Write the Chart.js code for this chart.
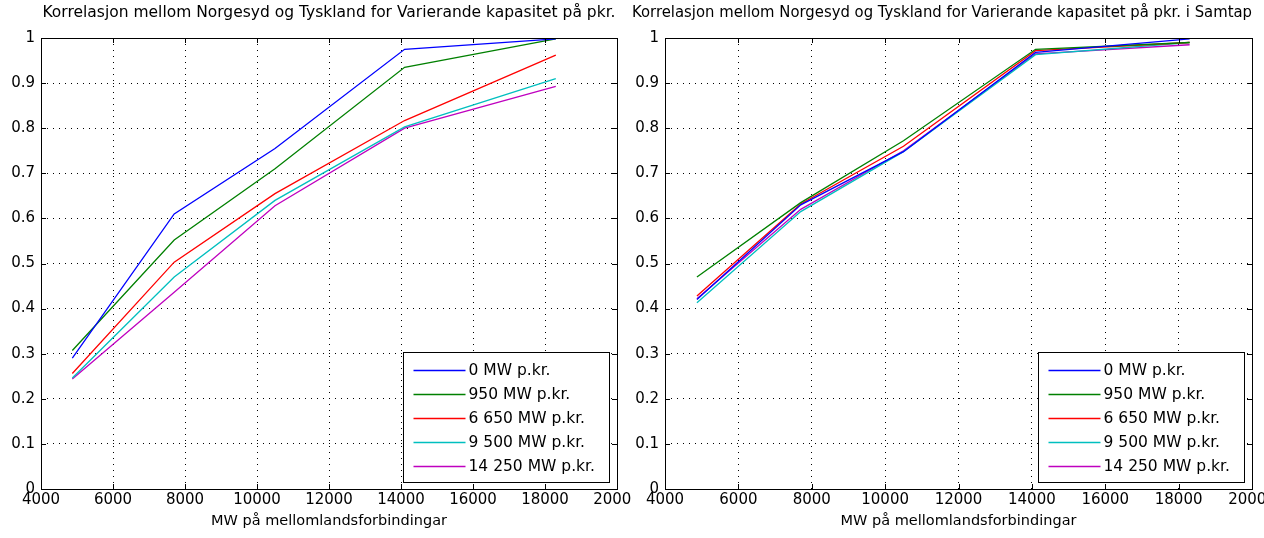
<!DOCTYPE html>
<html>
<head>
<meta charset="utf-8">
<script src="https://cdn.jsdelivr.net/npm/chart.js@4"></script>
<style>
    body { margin: 0; background: #fff; }
    .wrap { position: relative; width: 1264px; height: 538px; overflow: hidden; }
    .plot { position: absolute; top: 0; width: 632px; height: 538px; }
</style>
</head>
<body>
<div class="wrap">
    <div class="plot" style="left:0"><canvas id="chartLeft"></canvas></div>
    <div class="plot" style="left:632px"><canvas id="chartRight"></canvas></div>
</div>
<script>
// --- 1. Data ---
const xValues = [4870, 7700, 10500, 14100, 18300];
const seriesLabels = ['0 MW p.kr.', '950 MW p.kr.', '6 650 MW p.kr.', '9 500 MW p.kr.', '14 250 MW p.kr.'];
const seriesColors = ['#0000ff', '#008000', '#ff0000', '#00bfbf', '#bf00bf'];

// Left plot: Varierande kapasitet på pkr.
const left0 = [0.29, 0.61, 0.755, 0.975, 0.998];
const left950 = [0.307, 0.552, 0.71, 0.935, 0.998];
const left6650 = [0.256, 0.503, 0.655, 0.817, 0.962];
const left9500 = [0.246, 0.47, 0.64, 0.803, 0.91];
const left14250 = [0.244, 0.436, 0.628, 0.80, 0.893];

// Right plot: ... i Samtap
const right0 = [0.42, 0.63, 0.748, 0.968, 0.998];
const right950 = [0.47, 0.635, 0.772, 0.975, 0.99];
const right6650 = [0.428, 0.632, 0.76, 0.972, 0.99];
const right9500 = [0.413, 0.615, 0.748, 0.963, 0.99];
const right14250 = [0.422, 0.62, 0.75, 0.965, 0.985];

const xTicks = [4000, 6000, 8000, 10000, 12000, 14000, 16000, 18000, 20000];
const yTicks = [0, 0.1, 0.2, 0.3, 0.4, 0.5, 0.6, 0.7, 0.8, 0.9, 1];

const titleLeft = 'Korrelasjon mellom Norgesyd og Tyskland for Varierande kapasitet på pkr.';
const titleRight = 'Korrelasjon mellom Norgesyd og Tyskland for Varierande kapasitet på pkr. i Samtap';
const xLabel = 'MW på mellomlandsforbindingar';

const FONT = 'DejaVu Sans';

// --- 2. Plugin: frame, inward ticks and boxed legend (MATLAB look) ---
const matlabFrame = {
    id: 'matlabFrame',
    afterDatasetsDraw(chart) {
        const { ctx, chartArea: a, scales } = chart;
        ctx.save();
        ctx.strokeStyle = '#000';
        ctx.lineWidth = 1;
        ctx.setLineDash([]);
        ctx.strokeRect(Math.round(a.left) + 0.5, Math.round(a.top) + 0.5,
            Math.round(a.right - a.left), Math.round(a.bottom - a.top));

        // small ticks pointing inside
        ctx.beginPath();
        xTicks.forEach(v => {
            const px = Math.round(scales.x.getPixelForValue(v)) + 0.5;
            ctx.moveTo(px, a.bottom); ctx.lineTo(px, a.bottom - 5);
            ctx.moveTo(px, a.top); ctx.lineTo(px, a.top + 5);
        });
        yTicks.forEach(v => {
            const py = Math.round(scales.y.getPixelForValue(v)) + 0.5;
            ctx.moveTo(a.left, py); ctx.lineTo(a.left + 5, py);
            ctx.moveTo(a.right, py); ctx.lineTo(a.right - 5, py);
        });
        ctx.stroke();

        // legend box in lower right corner
        const boxW = 206, boxH = 130;
        const bx = Math.round(a.right - 8 - boxW) + 0.5;
        const by = Math.round(a.bottom - 7 - boxH) + 0.5;
        ctx.fillStyle = '#fff';
        ctx.fillRect(bx, by, boxW, boxH);
        ctx.strokeRect(bx, by, boxW, boxH);
        ctx.font = '15.5px "' + FONT + '"';
        ctx.textBaseline = 'middle';
        chart.data.datasets.forEach((ds, i) => {
            const ry = Math.round(by + 17 + i * 24) + 0.5;
            ctx.strokeStyle = ds.borderColor;
            ctx.lineWidth = 1.5;
            ctx.beginPath();
            ctx.moveTo(bx + 10, ry); ctx.lineTo(bx + 62, ry);
            ctx.stroke();
            ctx.fillStyle = '#000';
            ctx.fillText(ds.label, bx + 65, ry);
        });
        ctx.restore();
    }
};

// --- 3. Chart builder ---
function buildChart(canvasId, seriesList, title, opts) {
    const datasets = seriesList.map((values, i) => ({
        label: seriesLabels[i],
        data: values.map((y, j) => ({ x: xValues[j], y: y })),
        borderColor: seriesColors[i],
        backgroundColor: seriesColors[i],
        borderWidth: 1.3,
        pointRadius: 0,
        tension: 0
    }));

    return new Chart(document.getElementById(canvasId), {
        type: 'line',
        data: { datasets },
        options: {
            responsive: true,
            maintainAspectRatio: false,
            animation: false,
            layout: { padding: { left: 0, right: opts.padRight, top: 0, bottom: 0 } },
            plugins: {
                legend: { display: false },
                tooltip: { enabled: false },
                title: {
                    display: true,
                    text: title,
                    fullSize: opts.titleFull,
                    color: '#000',
                    font: { family: FONT, size: 15.5, weight: 'normal', lineHeight: 1.2 },
                    padding: { top: 3.5, bottom: 15.9 }
                }
            },
            scales: {
                x: {
                    type: 'linear',
                    min: 4000,
                    max: 20000,
                    afterBuildTicks: s => { s.ticks = xTicks.map(v => ({ value: v })); },
                    afterFit: s => { s.height = 49; s.paddingLeft = 0; s.paddingRight = 0; },
                    ticks: {
                        color: '#000',
                        padding: 2,
                        maxRotation: 0,
                        autoSkip: false,
                        font: { family: FONT, size: 15 },
                        callback: v => String(v)
                    },
                    grid: { color: '#000', lineWidth: 1, drawTicks: false },
                    border: { display: false, dash: [1, 5] },
                    title: {
                        display: true,
                        text: xLabel,
                        color: '#000',
                        font: { family: FONT, size: 14.5 },
                        padding: { top: 0, bottom: 8 }
                    }
                },
                y: {
                    min: 0,
                    max: 1,
                    afterBuildTicks: s => { s.ticks = yTicks.map(v => ({ value: v })); },
                    afterFit: s => { s.width = opts.yWidth; },
                    ticks: {
                        color: '#000',
                        padding: 6,
                        autoSkip: false,
                        font: { family: FONT, size: 15 },
                        callback: v => String(Number(v.toFixed(1)))
                    },
                    grid: { color: '#000', lineWidth: 1, drawTicks: false },
                    border: { display: false, dash: [1, 5] }
                }
            }
        },
        plugins: [matlabFrame]
    });
}

// --- 4. Draw both plots ---
buildChart('chartLeft', [left0, left950, left6650, left9500, left14250], titleLeft,
    { padRight: 15, yWidth: 41, titleFull: false });
buildChart('chartRight', [right0, right950, right6650, right9500, right14250], titleRight,
    { padRight: 12, yWidth: 33, titleFull: true });
</script>
</body>
</html>
